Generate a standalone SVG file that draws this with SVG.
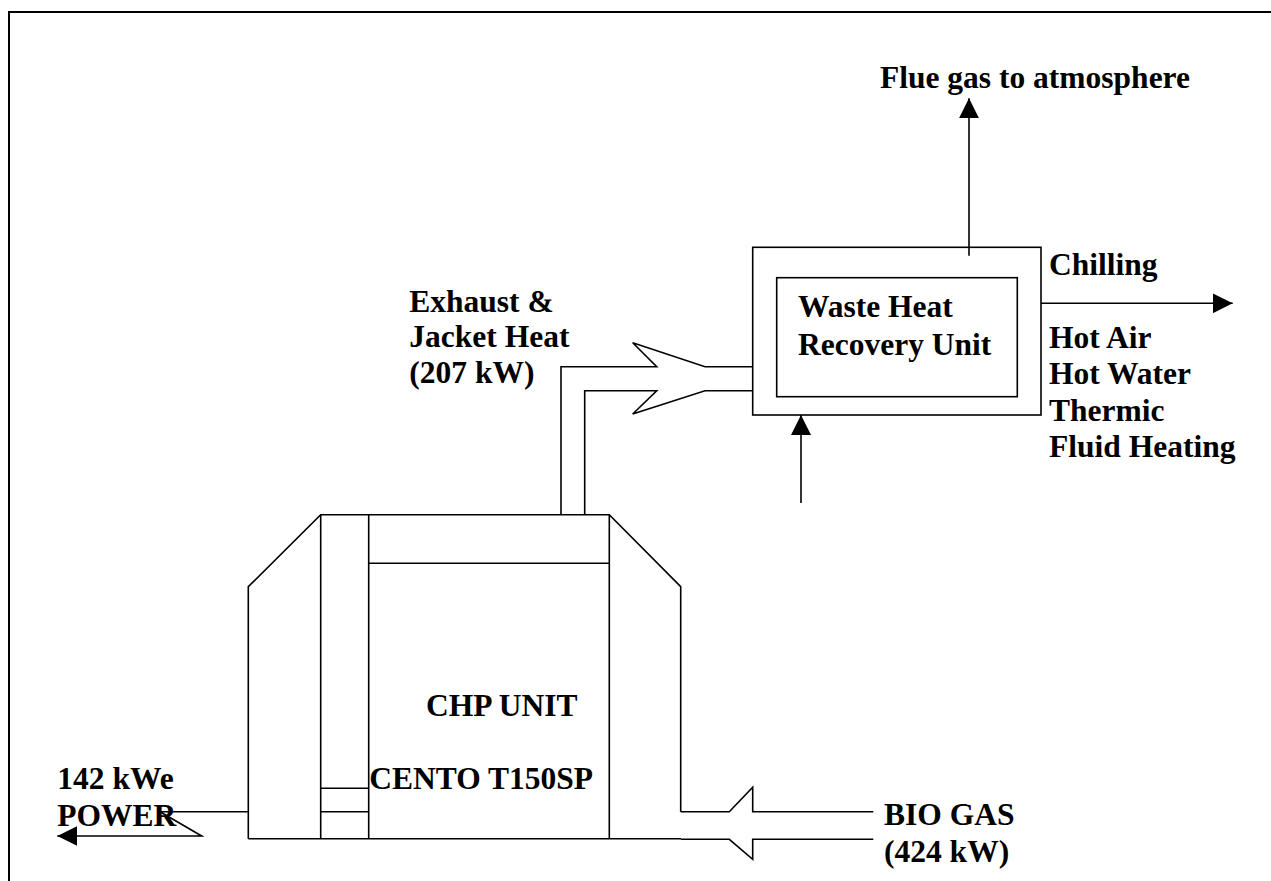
<svg xmlns="http://www.w3.org/2000/svg" width="1271" height="881" viewBox="0 0 1271 881">
<style>
.ln{fill:none;stroke:#000;stroke-width:1.6;stroke-linejoin:miter}
.t{font-family:"Liberation Serif","Times New Roman",serif;font-weight:bold;font-size:31.5px;fill:#000}
</style>
<defs>
<marker id="ah" viewBox="0 0 20 20" refX="20" refY="10" markerWidth="20" markerHeight="20" markerUnits="userSpaceOnUse" orient="auto">
<path d="M0,0 L20,10 L0,20 Z" fill="#000"/>
</marker>
</defs>
<rect width="1271" height="881" fill="#fff"/>
<g id="border">
<path class="ln" style="stroke-width:2" d="M9,881 V12 H1271"/>
</g>
<g id="whru">
<rect class="ln" x="752.7" y="247.3" width="288.3" height="167.7"/>
<rect class="ln" x="776.7" y="277.7" width="240.6" height="119"/>
<text class="t" x="798" y="317">Waste Heat</text>
<text class="t" x="798" y="355">Recovery Unit</text>
</g>
<g id="chp">
<path class="ln" d="M248.3,838.7 V586.7 L320.7,514.7 H609.3 L680.7,586.7 V811.7"/>
<path class="ln" d="M248.3,838.7 H681"/>
<path class="ln" d="M320.7,514.7 V838.7 M368.7,514.7 V838.7 M609.3,514.7 V838.7 M368.7,563.3 H609.3 M320.7,788.3 H368.7 M320.7,811.7 H368.7"/>
<text class="t" x="426" y="716">CHP UNIT</text>
<text class="t" x="369.3" y="789.3">CENTO T150SP</text>
</g>
<g id="labels">
<text class="t" x="409.3" y="311.7">Exhaust &amp;</text>
<text class="t" x="409.3" y="346.7">Jacket Heat</text>
<text class="t" x="409.3" y="383">(207 kW)</text>
<text class="t" x="880" y="88">Flue gas to atmosphere</text>
<text class="t" x="1049" y="275">Chilling</text>
<text class="t" x="1049" y="348.3">Hot Air</text>
<text class="t" x="1049" y="384.3">Hot Water</text>
<text class="t" x="1049" y="420.5">Thermic</text>
<text class="t" x="1049" y="456.7">Fluid Heating</text>
<text class="t" x="884" y="825">BIO GAS</text>
<text class="t" x="884" y="861.7">(424 kW)</text>
<text class="t" x="57.3" y="789.3">142 kWe</text>
<text class="t" x="57.3" y="826">POWER</text>
</g>
<g id="connectors">
<path class="ln" d="M561,514.7 V366.7 H656.7 L632.7,342.7 L705,366.7 H752.7"/>
<path class="ln" d="M584.7,514.7 V390.7 H656.7 L632.7,414 L705,390.7 H752.7"/>
<path class="ln" d="M680.7,811.7 H729.3 L752.7,787.3 V811.7 H873.3"/>
<path class="ln" d="M681,839.3 H729.3 L752.7,859.3 V839.3 H873.3"/>
<path class="ln" d="M969,255.7 V98.3" marker-end="url(#ah)"/>
<path class="ln" d="M1041,303.3 H1232.7" marker-end="url(#ah)"/>
<path class="ln" d="M801,503 V415" marker-end="url(#ah)"/>
<path class="ln" d="M248.3,811.7 H160 L201.7,836 H57.3" marker-end="url(#ah)"/>
</g>
</svg>
